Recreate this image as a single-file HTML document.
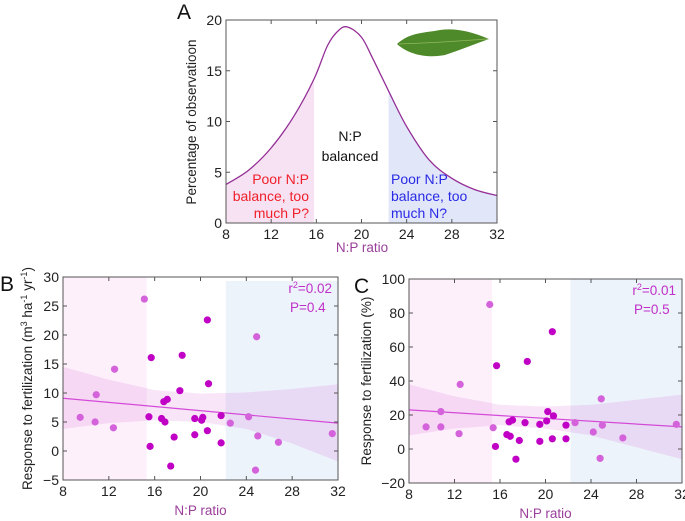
<!DOCTYPE html>
<html><head><meta charset="utf-8"><style>
html,body{margin:0;padding:0;background:#fff}
svg{display:block;font-family:"Liberation Sans",sans-serif}
</style></head><body>
<svg id="s" width="685" height="521" viewBox="0 0 685 521"></svg>
<script>
// ---- Panel A data ----
const aX = [8,10,12,14,15.8,17,18,18.8,20,21,22.4,24,26,28,30,32];
const aY = [3.8,5.2,7.4,10.5,14.2,17.5,19.0,19.3,18.3,16.2,13.0,9.5,6.2,4.4,3.3,2.7];
const aYTicks = [0,5,10,15,20];
const xTicks = [8,12,16,20,24,28,32];
// ---- Panel B data ----
const bLightX = [9.5,10.8,10.9,12.4,12.5,15.1,22.6,24.2,24.9,25.0,24.8,26.8,31.5];
const bLightY = [5.8,5.0,9.7,4.0,14.1,26.2,4.8,5.9,19.7,2.6,-3.3,1.5,3.0];
const bDarkX = [15.5,15.6,15.7,16.6,16.9,16.8,17.1,17.4,17.7,18.2,18.4,19.5,19.5,20.1,20.2,20.6,20.6,20.7,21.8,21.8];
const bDarkY = [5.9,0.8,16.1,5.6,5.0,8.5,8.9,-2.6,2.4,10.4,16.5,2.8,5.6,5.3,5.8,3.5,22.6,11.6,6.1,1.4];
const bFit = [9.1,4.8];
const bCiUpper = [14.5,12.3,10.5,9.9,10.1,10.7,11.5];
const bCiLower = [3.8,4.8,5.3,5.0,3.8,1.3,-1.8];
const bYTicks = [-5,0,5,10,15,20,25,30];
// ---- Panel C data ----
const cLightX = [9.5,10.8,10.8,12.4,12.5,15.1,15.4,22.6,24.2,24.9,25.0,24.8,26.8,31.5];
const cLightY = [13,22,13,9,38,85,12.5,15.5,10,29.5,14,-5.5,6.5,14.5];
const cDarkX = [15.6,15.7,16.6,16.9,16.8,17.1,17.4,17.7,18.2,18.4,19.5,19.5,20.1,20.2,20.6,20.6,20.7,21.8,21.8];
const cDarkY = [1.5,49,8.5,7.5,16,17,-6,5,15.5,51.5,4.5,14.5,16.5,22,6,69,19.5,14,6];
const cFit = [23,13];
const cCiUpper = [38,31,26,25,26,29,32];
const cCiLower = [8,12,14,12,8,1,-6];
const cYTicks = [-20,0,20,40,60,80,100];

const NS="http://www.w3.org/2000/svg";
const svg=document.getElementById('s');
function el(tag,attrs,parent,text){const e=document.createElementNS(NS,tag);for(const k in attrs)e.setAttribute(k,attrs[k]);if(text!==undefined)e.textContent=text;(parent||svg).appendChild(e);return e;}
function lin(d0,d1,r0,r1){return v=>r0+(v-d0)/(d1-d0)*(r1-r0);}
function smoothBody(pts){let d="";for(let i=0;i<pts.length-1;i++){const p0=pts[i-1]||pts[i],p1=pts[i],p2=pts[i+1],p3=pts[i+2]||p2;const c1x=p1[0]+(p2[0]-p0[0])/6,c1y=p1[1]+(p2[1]-p0[1])/6,c2x=p2[0]-(p3[0]-p1[0])/6,c2y=p2[1]-(p3[1]-p1[1])/6;d+=` C${c1x},${c1y} ${c2x},${c2y} ${p2[0]},${p2[1]}`;}return d;}
function smooth(pts){return "M"+pts[0][0]+","+pts[0][1]+smoothBody(pts);}
function interp(xs,ys,x){for(let i=0;i<xs.length-1;i++){if(x>=xs[i]&&x<=xs[i+1]){const t=(x-xs[i])/(xs[i+1]-xs[i]);return ys[i]+t*(ys[i+1]-ys[i]);}}return ys[ys.length-1];}

function axesFrame(g,x0,x1,y0,y1,sx,sy,yt,name){
  const f=el('rect',{x:x0,y:y0,width:x1-x0,height:y1-y0,fill:'none',stroke:'#555','stroke-width':1},g);
  
  
  xTicks.forEach(t=>{const x=sx(t);el('line',{x1:x,x2:x,y1:y1,y2:y1-4,stroke:'#555'},g);el('line',{x1:x,x2:x,y1:y0,y2:y0+4,stroke:'#555'},g);
    const tx=el('text',{x:x,y:y1+16,'text-anchor':'middle','font-size':14,fill:'#222'},g,String(t));
    
    });
  yt.forEach(t=>{const y=sy(t);el('line',{x1:x0,x2:x0+4,y1:y,y2:y,stroke:'#555'},g);el('line',{x1:x1,x2:x1-4,y1:y,y2:y,stroke:'#555'},g);
    const tx=el('text',{x:x0-4,y:y+5,'text-anchor':'end','font-size':14,fill:'#222'},g,t<0?'\u2212'+(-t):String(t));
    
    });
}

// ---------- Panel A ----------
(function(){
const g=el('g',{});
const x0=226,x1=497,y0=20,y1=223;
const sx=lin(8,32,x0,x1),sy=lin(0,20,y1,y0);
const pts=[];for(let i=0;i<aX.length;i++)pts.push([sx(aX[i]),sy(aY[i])]);
const d=smooth(pts);
const defs=el('defs',{},g);
const cp=el('clipPath',{id:'under'},defs);el('path',{d:d+` L${x1},${y1} L${x0},${y1} Z`},cp);
const pf=el('rect',{x:x0,y:y0,width:sx(15.8)-x0,height:y1-y0,fill:'#f6e2f3','clip-path':'url(#under)'},g);

const bf=el('rect',{x:sx(22.4),y:y0,width:x1-sx(22.4),height:y1-y0,fill:'#e1e7f8','clip-path':'url(#under)'},g);

const c=el('path',{d:d,fill:'none',stroke:'#942f96','stroke-width':1.3},g);

axesFrame(g,x0,x1,y0,y1,sx,sy,aYTicks,'panel-a');
const leaf=el('path',{d:'M397,44 C410,32 425,33 440,30 C455,28 470,31 489,39 C475,44 460,50 445,55 C430,58 410,56 397,44 Z',fill:'#4f8a2a'},g);

el('path',{d:'M399,44 C430,43 460,41 488,39',stroke:'#8fb85a','stroke-width':0.8,fill:'none'},g);
const lab=el('text',{x:177,y:19,'font-size':21,fill:'#111'},g,'A');

const yl=el('text',{transform:'translate(196,122) rotate(-90)','text-anchor':'middle','font-size':13.5,fill:'#222'},g,'Percentage of observatioon');

const xl=el('text',{x:362,y:252,'text-anchor':'middle','font-size':13.5,fill:'#9a3f9a'},g,'N:P ratio');

[['N:P',350,141],['balanced',350,161]].forEach(a=>{const t=el('text',{x:a[1],y:a[2],'text-anchor':'middle','font-size':14,fill:'#111'},g,a[0]);});
[['Poor N:P',309,184],['balance, too',309,201],['much P?',309,218]].forEach(a=>{const t=el('text',{x:a[1],y:a[2],'text-anchor':'end','font-size':14,fill:'#f0202a'},g,a[0]);});
[['Poor N:P',391,184],['balance, too',391,201],['much N?',391,218]].forEach(a=>{const t=el('text',{x:a[1],y:a[2],'font-size':14,fill:'#2a2ae6'},g,a[0]);});
})();

function scatterPanel(cfg){
const g=el('g',{});
const {x0,x1,y0,y1}=cfg;
const sx=lin(8,32,x0,x1),sy=lin(cfg.ymin,cfg.ymax,y1,y0);
const pr=el('rect',{x:x0,y:y0,width:sx(15.3)-x0,height:y1-y0,fill:'#fdf0fb'},g);

const br=el('rect',{x:sx(22.2),y:cfg.blueTop,width:x1-sx(22.2),height:y1-cfg.blueTop,fill:'#edf3fb'},g);

let up=[],lo=[];
for(let v=8;v<=32.001;v+=0.5){up.push([sx(v),sy(interp(xTicks,cfg.ciU,v))]);lo.push([sx(v),sy(interp(xTicks,cfg.ciL,v))]);}
lo.reverse();
const d=smooth(up)+" L"+lo[0][0]+","+lo[0][1]+smoothBody(lo)+" Z";
const band=el('path',{d:d,fill:'rgba(205,80,205,0.15)',stroke:'none'},g);

const fl=el('line',{x1:sx(8),y1:sy(cfg.fit[0]),x2:sx(32),y2:sy(cfg.fit[1]),stroke:'#d44ad8','stroke-width':1.2},g);

cfg.lx.forEach((v,i)=>{const p=el('circle',{cx:sx(v),cy:sy(cfg.ly[i]),r:3.6,fill:'#d462da'},g);
  });
cfg.dx.forEach((v,i)=>{const p=el('circle',{cx:sx(v),cy:sy(cfg.dy[i]),r:3.6,fill:'#c000c4'},g);
  });
axesFrame(g,x0,x1,y0,y1,sx,sy,cfg.yt,cfg.name);
const lab=el('text',{x:cfg.labX,y:y0+14,'font-size':21,fill:'#111'},g,cfg.label);

const r=el('text',{x:x1-6,y:y0+16,'text-anchor':'end','font-size':13.5,fill:'#c030c8'},g);

el('tspan',{},r,'r');el('tspan',{dy:-5,'font-size':9},r,'2');el('tspan',{dy:5},r,'='+cfg.r2);
const pv=el('text',{x:x1-48,y:y0+35,'font-size':13.5,fill:'#c030c8'},g,'P='+cfg.p);

const yl=el('text',{transform:`translate(${cfg.ylx},${(y0+y1)/2}) rotate(-90)`,'text-anchor':'middle','font-size':13.5,fill:'#222'},g);

cfg.ytitle(yl);
const xl=el('text',{x:(x0+x1)/2,y:y1+35,'text-anchor':'middle','font-size':13.5,fill:'#9a3f9a'},g,'N:P ratio');

}
scatterPanel({name:'panel-b',x0:63,x1:338,y0:277,y1:480,ymin:-5,ymax:30,blueTop:281,
 lx:bLightX,ly:bLightY,dx:bDarkX,dy:bDarkY,fit:bFit,ciU:bCiUpper,ciL:bCiLower,yt:bYTicks,
 label:'B',labX:0,r2:'0.02',p:'0.4',ylx:32,
 ytitle:t=>{el('tspan',{},t,'Response to fertilization (m');el('tspan',{dy:-5,'font-size':9},t,'3');el('tspan',{dy:5},t,' ha');el('tspan',{dy:-5,'font-size':9},t,'-1');el('tspan',{dy:5},t,' yr');el('tspan',{dy:-5,'font-size':9},t,'-1');el('tspan',{dy:5},t,')');}});
scatterPanel({name:'panel-c',x0:409,x1:682,y0:279,y1:483,ymin:-20,ymax:100,blueTop:279,
 lx:cLightX,ly:cLightY,dx:cDarkX,dy:cDarkY,fit:cFit,ciU:cCiUpper,ciL:cCiLower,yt:cYTicks,
 label:'C',labX:354,r2:'0.01',p:'0.5',ylx:371,
 ytitle:t=>{t.textContent='Response to fertilization (%)';}});
</script>
</body></html>
